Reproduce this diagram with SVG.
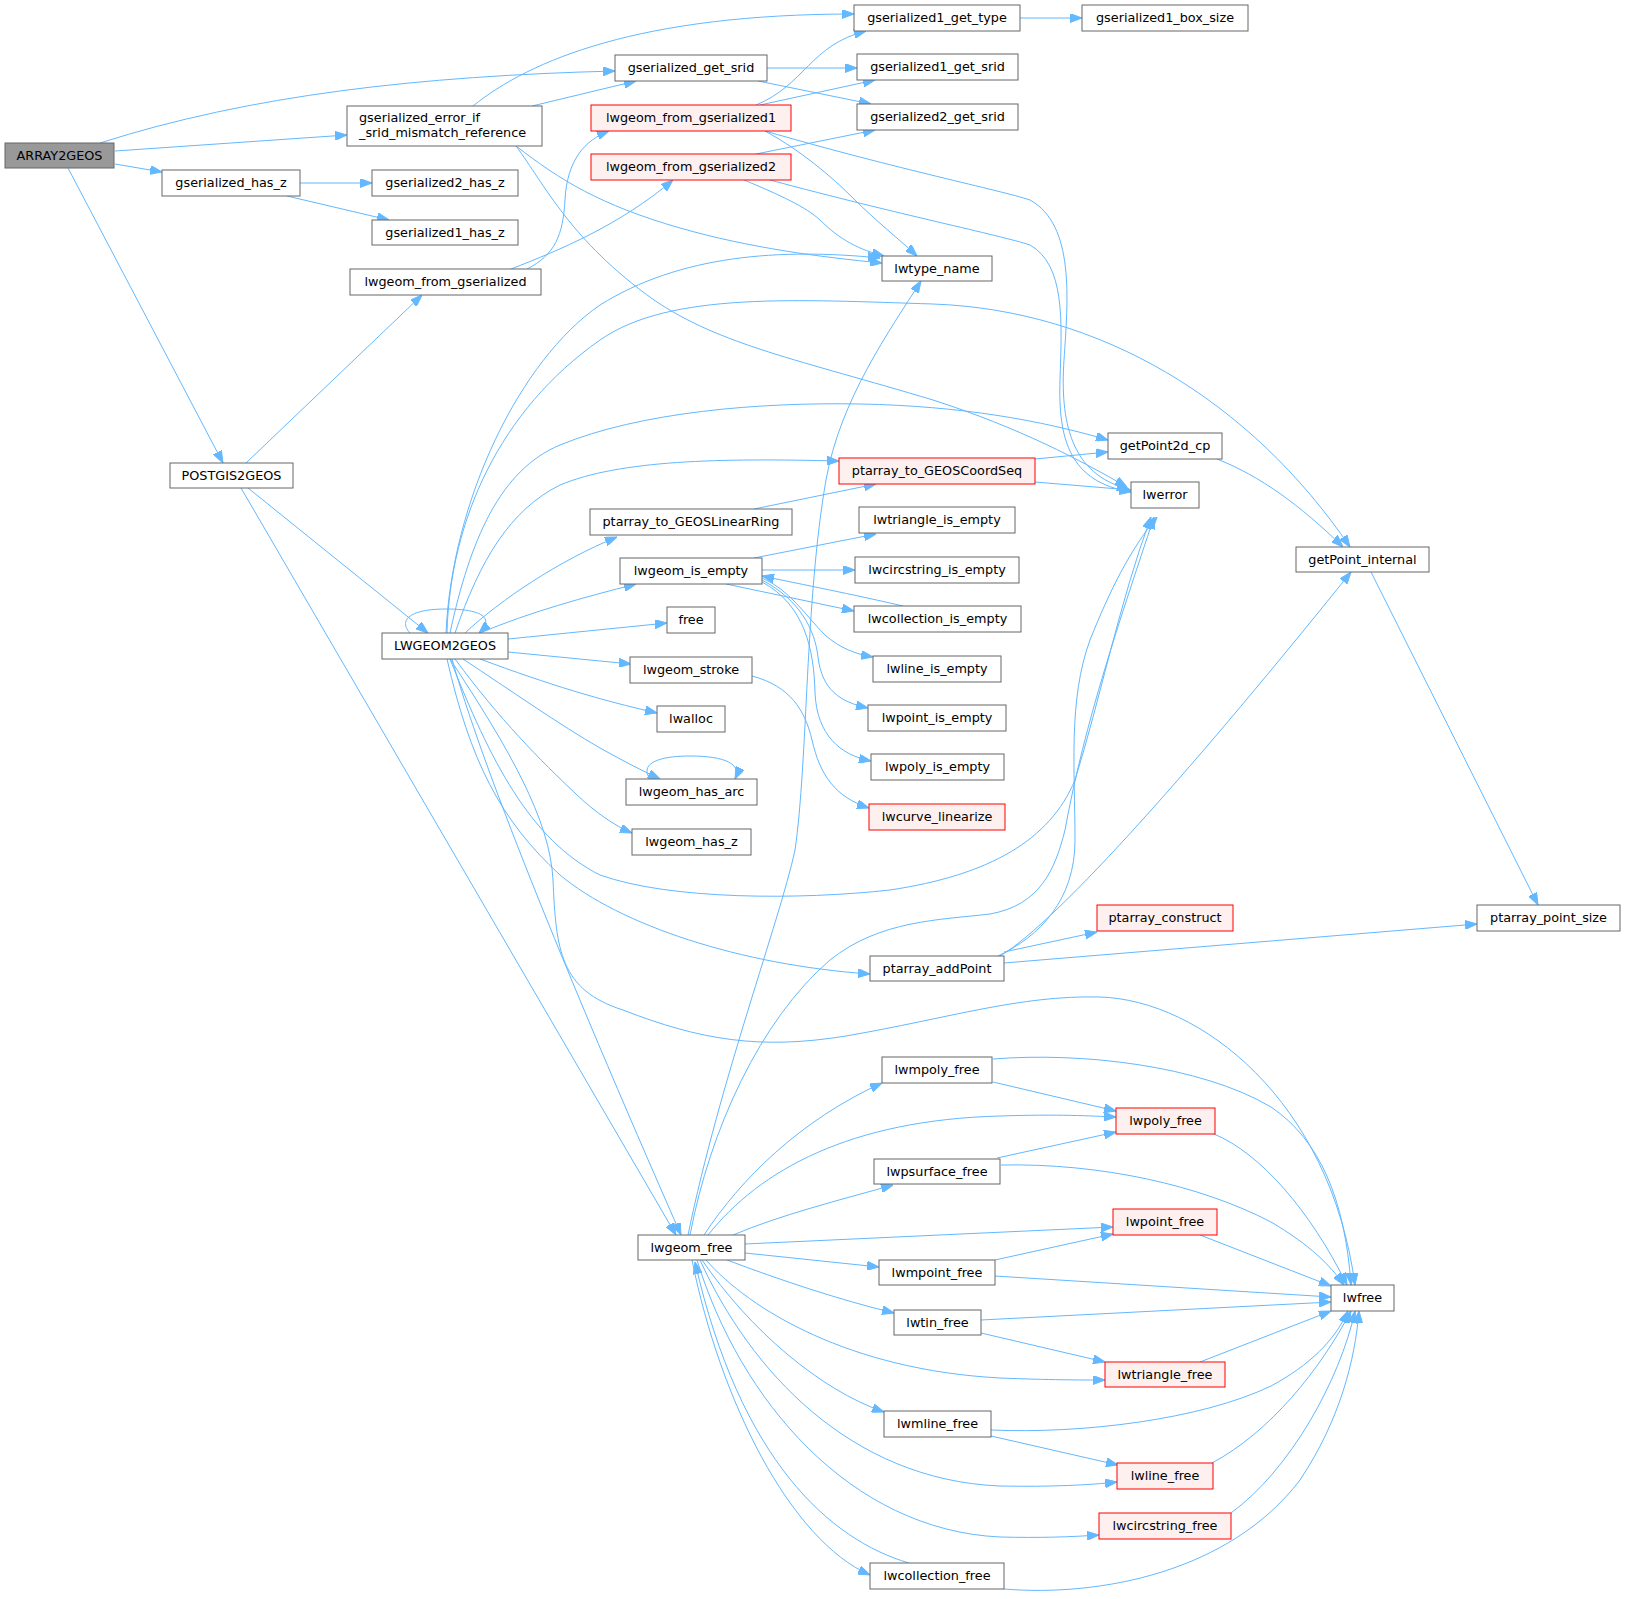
<svg xmlns="http://www.w3.org/2000/svg" width="1625" height="1599" viewBox="0 0 1625 1599">
<defs>
<marker id="ah" viewBox="0 0 12 9" refX="12" refY="4.5" markerWidth="12" markerHeight="9" markerUnits="userSpaceOnUse" orient="auto">
<path d="M0,0 L12,4.5 L0,9 z" fill="#63b8ff" stroke="#63b8ff" stroke-width="1"/>
</marker>
<style>
.n rect{fill:#ffffff;stroke:#666666;stroke-width:1}
.n.r rect{fill:#fff0f0;stroke:#ff0000}
.n.root rect{fill:#999999;stroke:#666666}
.n text{font-family:"DejaVu Sans","Liberation Sans",sans-serif;font-size:12.8px;fill:#000000;text-anchor:middle}
.n text.l{text-anchor:start}
#edges path{fill:none;stroke:#63b8ff;stroke-width:1;marker-end:url(#ah)}
</style>
</defs>
<rect width="1625" height="1599" fill="#ffffff"/>
<g id="edges">
<path d="M100,143 C250,95 420,76 615,71"/>
<path d="M115,151 L347,135"/>
<path d="M115,164 L162,172"/>
<path d="M68,168 L223,463"/>
<path d="M473,106 C530,60 640,14 854,14"/>
<path d="M532,106 L636,81"/>
<path d="M516,146 C560,180 600,205 680,228 C750,248 820,257 882,263"/>
<path d="M516,146 C545,185 570,240 654,300 C720,345 800,360 933,400 C1020,428 1080,460 1127,487"/>
<path d="M300,183 L372,183"/>
<path d="M287,196 L389,220"/>
<path d="M767,68 L857,68"/>
<path d="M758,81 L871,104"/>
<path d="M1020,18 L1082,18"/>
<path d="M527,269 C555,255 563,235 565,200 C567,160 585,140 609,131"/>
<path d="M511,269 C560,250 620,225 673,180"/>
<path d="M756,105 C805,85 810,45 866,31"/>
<path d="M760,105 L875,80"/>
<path d="M765,131 C800,150 830,175 855,200 C875,220 900,240 917,256"/>
<path d="M765,131 C900,170 1000,190 1030,200 C1075,225 1068,300 1064,360 C1060,420 1070,475 1129,489"/>
<path d="M756,154 L875,130"/>
<path d="M744,180 C780,195 806,207 820,220 C840,240 860,250 884,256"/>
<path d="M770,180 C900,215 1000,235 1030,245 C1065,265 1062,320 1060,380 C1058,440 1070,482 1131,492"/>
<path d="M246,463 L422,295"/>
<path d="M248,488 L428,633"/>
<path d="M241,488 L676,1235"/>
<path d="M410,633 C398,620 410,609 446,609 C482,609 495,618 479,633"/>
<path d="M446,633 C452,500 520,360 600,305 C680,255 780,248 880,258"/>
<path d="M447,633 C450,520 500,410 600,340 C670,291 800,300 933,304 C1100,310 1250,400 1350,547"/>
<path d="M450,633 C470,540 500,470 560,445 C640,412 760,402 861,404 C960,406 1040,420 1108,440"/>
<path d="M455,633 C480,560 510,510 560,485 C620,460 720,458 839,461"/>
<path d="M465,633 C500,600 560,560 617,537"/>
<path d="M480,633 C530,612 585,597 636,584"/>
<path d="M508,639 L667,623"/>
<path d="M508,652 L631,664"/>
<path d="M480,659 C550,685 600,700 657,713"/>
<path d="M463,659 C510,690 560,725 600,748 C625,762 645,772 660,779"/>
<path d="M455,659 C500,720 540,760 577,795 C595,812 615,826 632,833"/>
<path d="M450,659 C490,760 530,840 600,875 C670,900 800,900 890,890 C990,875 1050,840 1075,780 C1100,700 1120,600 1151,517"/>
<path d="M447,659 C470,760 500,820 560,875 C620,925 740,965 870,974"/>
<path d="M450,659 C510,750 550,820 553,880 C556,950 560,990 623,1010 C700,1040 760,1050 846,1036 C950,1018 1020,995 1100,997 C1200,1000 1330,1100 1355,1285"/>
<path d="M452,659 C480,760 560,960 681,1235"/>
<path d="M754,509 L876,484"/>
<path d="M1035,459 L1108,452"/>
<path d="M1035,482 L1131,490"/>
<path d="M1217,459 C1260,476 1300,505 1343,547"/>
<path d="M1371,572 L1538,905"/>
<path d="M1000,956 C1060,920 1200,760 1351,572"/>
<path d="M998,956 C1040,936 1075,900 1075,840 C1075,770 1068,700 1090,640 C1110,590 1130,550 1157,517"/>
<path d="M1004,952 L1097,932"/>
<path d="M1004,963 L1477,924"/>
<path d="M690,1235 C710,1130 760,1020 830,960 C880,920 940,920 990,914 C1040,905 1055,870 1065,830 C1085,720 1120,620 1154,517"/>
<path d="M688,1235 C720,1080 780,920 795,850 C808,760 805,600 826,480 C840,400 890,330 921,281"/>
<path d="M704,1235 C740,1180 800,1120 882,1083"/>
<path d="M708,1235 C760,1170 850,1120 1000,1116 C1060,1114 1090,1116 1116,1117"/>
<path d="M733,1235 C780,1215 840,1200 893,1185"/>
<path d="M745,1244 L1113,1227"/>
<path d="M745,1253 L879,1267"/>
<path d="M727,1260 C780,1280 840,1300 894,1313"/>
<path d="M706,1260 C750,1310 850,1370 1000,1378 C1050,1380 1080,1380 1105,1380"/>
<path d="M702,1260 C750,1330 820,1390 884,1412"/>
<path d="M700,1260 C750,1370 850,1480 1000,1486 C1050,1487 1090,1485 1117,1482"/>
<path d="M697,1260 C740,1400 850,1530 1000,1537 C1040,1538 1070,1537 1099,1535"/>
<path d="M692,1260 C720,1400 790,1540 870,1575"/>
<path d="M909,1563 C830,1540 740,1460 695,1262"/>
<path d="M993,1059 C1080,1052 1200,1065 1271,1107 C1320,1140 1345,1200 1351,1285"/>
<path d="M1214,1134 C1260,1153 1310,1210 1347,1285"/>
<path d="M1001,1165 C1100,1163 1200,1185 1271,1222 C1310,1245 1330,1265 1344,1285"/>
<path d="M1200,1235 L1331,1286"/>
<path d="M995,1276 L1331,1297"/>
<path d="M981,1320 L1331,1302"/>
<path d="M1200,1362 L1331,1311"/>
<path d="M991,1430 C1080,1434 1200,1420 1271,1386 C1310,1365 1335,1340 1348,1311"/>
<path d="M1212,1463 C1270,1432 1320,1370 1351,1311"/>
<path d="M1231,1513 C1290,1470 1340,1380 1355,1311"/>
<path d="M1004,1589 C1100,1597 1230,1572 1300,1480 C1340,1420 1355,1360 1359,1311"/>
<path d="M993,1082 L1116,1111"/>
<path d="M997,1158 L1116,1132"/>
<path d="M995,1260 L1113,1234"/>
<path d="M981,1333 L1105,1362"/>
<path d="M991,1436 L1118,1465"/>
<path d="M752,676 C790,686 805,710 812,740 C820,775 835,797 869,808"/>
<path d="M754,558 L876,534"/>
<path d="M762,570 L855,570"/>
<path d="M726,584 L854,611"/>
<path d="M903,606 C860,596 820,588 762,576"/>
<path d="M762,578 C790,590 805,615 825,635 C840,648 855,654 873,657"/>
<path d="M762,580 C800,600 815,630 818,657 C822,690 840,702 868,708"/>
<path d="M762,582 C805,605 814,650 815,693 C817,735 840,755 871,761"/>
<path d="M650,779 C640,765 655,756 690,756 C725,756 742,764 735,779"/>
</g>
<g id="n1" class="n root"><rect x="5" y="143" width="109" height="25"/><text x="59.5" y="159.5">ARRAY2GEOS</text></g>
<g id="n2" class="n"><rect x="347" y="106" width="195" height="40"/><text class="l" x="359" y="122">gserialized_error_if</text><text class="l" x="359" y="137">_srid_mismatch_reference</text></g>
<g id="n3" class="n"><rect x="162" y="170" width="138" height="26"/><text x="231" y="187">gserialized_has_z</text></g>
<g id="n4" class="n"><rect x="372" y="170" width="146" height="26"/><text x="445" y="187">gserialized2_has_z</text></g>
<g id="n5" class="n"><rect x="372" y="220" width="146" height="25"/><text x="445" y="236.5">gserialized1_has_z</text></g>
<g id="n6" class="n"><rect x="350" y="269" width="191" height="26"/><text x="445.5" y="286">lwgeom_from_gserialized</text></g>
<g id="n7" class="n"><rect x="170" y="463" width="123" height="25"/><text x="231.5" y="479.5">POSTGIS2GEOS</text></g>
<g id="n8" class="n"><rect x="382" y="633" width="126" height="26"/><text x="445" y="650">LWGEOM2GEOS</text></g>
<g id="n9" class="n"><rect x="854" y="5" width="166" height="26"/><text x="937" y="22">gserialized1_get_type</text></g>
<g id="n10" class="n"><rect x="1082" y="5" width="166" height="26"/><text x="1165" y="22">gserialized1_box_size</text></g>
<g id="n11" class="n"><rect x="615" y="55" width="152" height="26"/><text x="691" y="72">gserialized_get_srid</text></g>
<g id="n12" class="n"><rect x="857" y="54" width="161" height="26"/><text x="937.5" y="71">gserialized1_get_srid</text></g>
<g id="n13" class="n"><rect x="857" y="104" width="161" height="26"/><text x="937.5" y="121">gserialized2_get_srid</text></g>
<g id="n14" class="n r"><rect x="591" y="105" width="200" height="26"/><text x="691" y="122">lwgeom_from_gserialized1</text></g>
<g id="n15" class="n r"><rect x="591" y="154" width="200" height="26"/><text x="691" y="171">lwgeom_from_gserialized2</text></g>
<g id="n16" class="n"><rect x="882" y="256" width="110" height="25"/><text x="937" y="272.5">lwtype_name</text></g>
<g id="n17" class="n r"><rect x="839" y="458" width="196" height="26"/><text x="937" y="475">ptarray_to_GEOSCoordSeq</text></g>
<g id="n18" class="n"><rect x="590" y="509" width="202" height="26"/><text x="691" y="526">ptarray_to_GEOSLinearRing</text></g>
<g id="n19" class="n"><rect x="859" y="507" width="156" height="26"/><text x="937" y="524">lwtriangle_is_empty</text></g>
<g id="n20" class="n"><rect x="620" y="558" width="142" height="26"/><text x="691" y="575">lwgeom_is_empty</text></g>
<g id="n21" class="n"><rect x="855" y="557" width="164" height="26"/><text x="937" y="574">lwcircstring_is_empty</text></g>
<g id="n22" class="n"><rect x="854" y="606" width="167" height="26"/><text x="937.5" y="623">lwcollection_is_empty</text></g>
<g id="n23" class="n"><rect x="667" y="607" width="48" height="26"/><text x="691" y="624">free</text></g>
<g id="n24" class="n"><rect x="873" y="656" width="128" height="26"/><text x="937" y="673">lwline_is_empty</text></g>
<g id="n25" class="n"><rect x="630" y="657" width="122" height="26"/><text x="691" y="674">lwgeom_stroke</text></g>
<g id="n26" class="n"><rect x="868" y="705" width="138" height="26"/><text x="937" y="722">lwpoint_is_empty</text></g>
<g id="n27" class="n"><rect x="657" y="706" width="68" height="26"/><text x="691" y="723">lwalloc</text></g>
<g id="n28" class="n"><rect x="871" y="754" width="133" height="26"/><text x="937.5" y="771">lwpoly_is_empty</text></g>
<g id="n29" class="n"><rect x="626" y="779" width="131" height="26"/><text x="691.5" y="796">lwgeom_has_arc</text></g>
<g id="n30" class="n r"><rect x="869" y="804" width="136" height="26"/><text x="937" y="821">lwcurve_linearize</text></g>
<g id="n31" class="n"><rect x="632" y="829" width="119" height="26"/><text x="691.5" y="846">lwgeom_has_z</text></g>
<g id="n32" class="n"><rect x="1108" y="433" width="114" height="26"/><text x="1165" y="450">getPoint2d_cp</text></g>
<g id="n33" class="n"><rect x="1131" y="482" width="68" height="26"/><text x="1165" y="499">lwerror</text></g>
<g id="n34" class="n"><rect x="1296" y="547" width="133" height="25"/><text x="1362.5" y="563.5">getPoint_internal</text></g>
<g id="n35" class="n r"><rect x="1097" y="905" width="136" height="26"/><text x="1165" y="922">ptarray_construct</text></g>
<g id="n36" class="n"><rect x="1477" y="905" width="143" height="26"/><text x="1548.5" y="922">ptarray_point_size</text></g>
<g id="n37" class="n"><rect x="870" y="956" width="134" height="25"/><text x="937" y="972.5">ptarray_addPoint</text></g>
<g id="n38" class="n"><rect x="882" y="1057" width="110" height="26"/><text x="937" y="1074">lwmpoly_free</text></g>
<g id="n39" class="n r"><rect x="1116" y="1108" width="99" height="26"/><text x="1165.5" y="1125">lwpoly_free</text></g>
<g id="n40" class="n"><rect x="874" y="1159" width="126" height="25"/><text x="937" y="1175.5">lwpsurface_free</text></g>
<g id="n41" class="n"><rect x="638" y="1235" width="107" height="25"/><text x="691.5" y="1251.5">lwgeom_free</text></g>
<g id="n42" class="n r"><rect x="1113" y="1209" width="104" height="26"/><text x="1165" y="1226">lwpoint_free</text></g>
<g id="n43" class="n"><rect x="879" y="1260" width="116" height="25"/><text x="937" y="1276.5">lwmpoint_free</text></g>
<g id="n44" class="n"><rect x="1331" y="1285" width="63" height="26"/><text x="1362.5" y="1302">lwfree</text></g>
<g id="n45" class="n"><rect x="894" y="1310" width="87" height="25"/><text x="937.5" y="1326.5">lwtin_free</text></g>
<g id="n46" class="n r"><rect x="1105" y="1362" width="120" height="25"/><text x="1165" y="1378.5">lwtriangle_free</text></g>
<g id="n47" class="n"><rect x="884" y="1411" width="107" height="26"/><text x="937.5" y="1428">lwmline_free</text></g>
<g id="n48" class="n r"><rect x="1117" y="1463" width="96" height="26"/><text x="1165" y="1480">lwline_free</text></g>
<g id="n49" class="n r"><rect x="1099" y="1513" width="132" height="26"/><text x="1165" y="1530">lwcircstring_free</text></g>
<g id="n50" class="n"><rect x="870" y="1563" width="134" height="26"/><text x="937" y="1580">lwcollection_free</text></g>
</svg>
